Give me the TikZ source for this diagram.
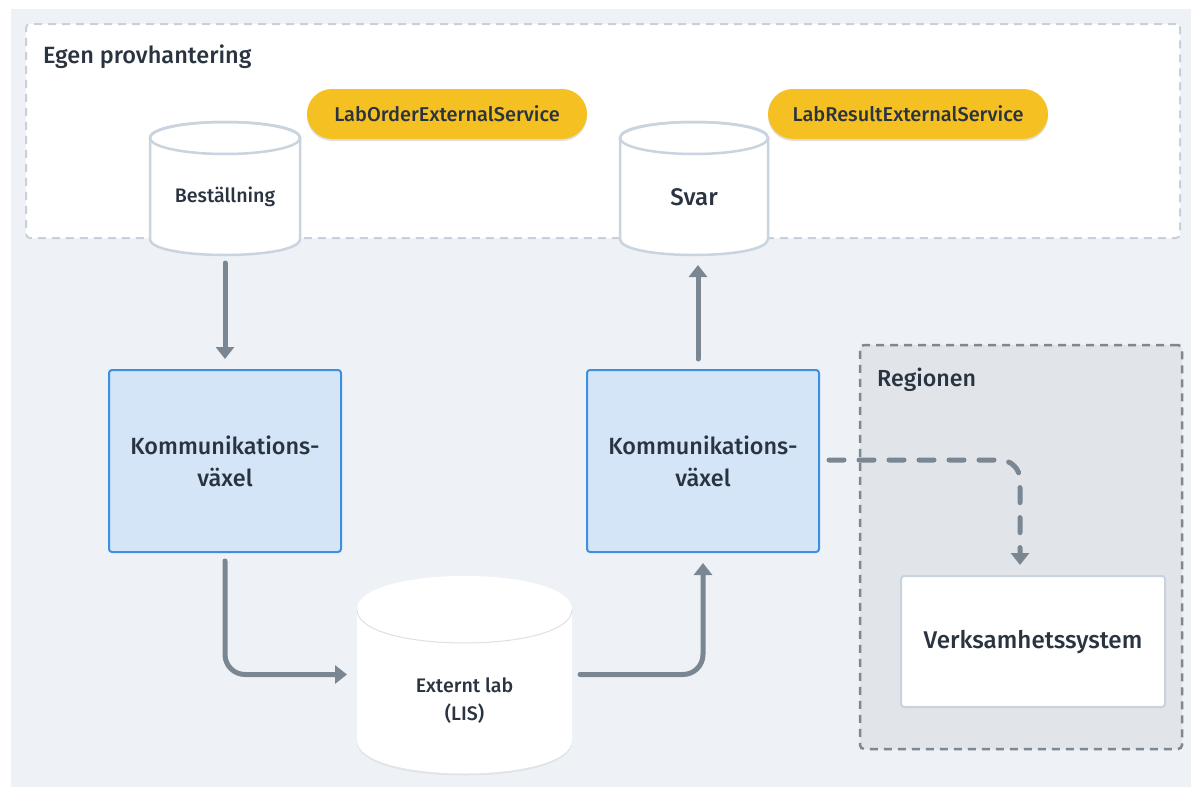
\documentclass[tikz,border=0pt]{standalone}
\usepackage{fontspec}
\setmainfont{Fira Sans Medium}
\usetikzlibrary{arrows.meta,shadows,calc}
\definecolor{bgc}{HTML}{EEF2F6}
\definecolor{egenborder}{HTML}{C8D1DA}
\definecolor{regfill}{HTML}{E1E4E8}
\definecolor{regborder}{HTML}{7D8893}
\definecolor{arrc}{HTML}{7A8692}
\definecolor{kfill}{HTML}{D3E5F6}
\definecolor{kborder}{HTML}{3D8FE0}
\definecolor{cylborder}{HTML}{C9D4DE}
\definecolor{pillc}{HTML}{F5C022}
\definecolor{txtc}{HTML}{2A3440}
\definecolor{verkborder}{HTML}{C9D3DD}
% #1 cx, #2 top ellipse centre y, #3 bottom ellipse centre y, #4 rx, #5 ry, #6 style
\newcommand\drawcyl[6]{%
  \path[#6] (#1-#4,#2) -- (#1-#4,#3)
    .. controls (#1-#4,#3+1.3333*#5) and (#1+#4,#3+1.3333*#5) .. (#1+#4,#3)
    -- (#1+#4,#2)
    .. controls (#1+#4,#2-1.3333*#5) and (#1-#4,#2-1.3333*#5) .. (#1-#4,#2) -- cycle;
}
\newcommand\drawcyltop[6]{%
  \path[#6] (#1-#4,#2)
    .. controls (#1-#4,#2+1.3333*#5) and (#1+#4,#2+1.3333*#5) .. (#1+#4,#2);
}
\tikzset{
  kbox/.style={draw=kborder, fill=kfill, line width=2, rounded corners=3,
    minimum width=232, minimum height=182, align=center,
    font=\fontsize{23.4}{32}\selectfont, text=txtc, inner sep=0},
  pill/.style={fill=pillc, rounded corners=25, minimum width=280, minimum height=50,
    font=\fontsize{20}{20}\selectfont, text=txtc, inner sep=0,
    drop shadow={shadow xshift=0pt, shadow yshift=-2pt, opacity=0.12, fill=black}},
  cylnode/.style={inner sep=0, outer sep=0},
  lbl/.style={text=txtc, inner sep=0},
  arr/.style={draw=arrc, line width=5, line cap=round, rounded corners=20,
    -{Triangle[length=12pt,width=18pt]}},
  darr/.style={arr, dash pattern=on 15pt off 15pt},
}
\begin{document}
\begin{tikzpicture}[x=1pt,y=-1pt]
\useasboundingbox (0,0) rectangle (1191,787);
\fill[white] (0,0) rectangle (1191,787);
\fill[bgc] (11,9) rectangle (1191,787);
% group boxes
\node[draw=egenborder, fill=white, line width=2, dash pattern=on 8pt off 6pt,
  rounded corners=4, minimum width=1154, minimum height=214, inner sep=0]
  (egen) at (603,131) {};
\node[lbl, anchor=west, font=\fontsize{23.5}{24}\selectfont] (egenlbl) at (43,57) {Egen provhantering};
\node[draw=regborder, fill=regfill, line width=2.5, dash pattern=on 8pt off 6pt,
  rounded corners=4, minimum width=322, minimum height=404, inner sep=0]
  (region) at (1021,547) {};
\node[lbl, anchor=west, font=\fontsize{23.2}{24}\selectfont] (reglbl) at (877,380) {Regionen};
% cylinders
\drawcyl{225}{138}{239}{75}{16}{fill=white, draw=cylborder, line width=2.5}
\draw[cylborder, line width=2.5] (225,138) ellipse [x radius=75pt, y radius=16pt];
\node[cylnode, minimum width=150, minimum height=133] (best) at (225,188.5) {};
\node[lbl, font=\fontsize{19.6}{20}\selectfont] (bestlbl) at (225,197) {Beställning};

\drawcyl{694}{138}{239}{74}{16}{fill=white, draw=cylborder, line width=2.5}
\draw[cylborder, line width=2.5] (694,138) ellipse [x radius=74pt, y radius=16pt];
\node[cylnode, minimum width=148, minimum height=133] (svar) at (694,188.5) {};
\node[lbl, font=\fontsize{24}{26}\selectfont] (svarlbl) at (694,197) {Svar};

\begin{scope}
\drawcyl{464.5}{609.5}{740}{107.5}{33.5}{fill=black, opacity=0.06, shift={(0,2)}}
\drawcyl{464.5}{609.5}{740}{107.5}{33.5}{fill=white}
\drawcyltop{464.5}{609.5}{740}{107.5}{33.5}{draw=black!12, line width=1}
\end{scope}
\node[cylnode, minimum width=215, minimum height=197] (ext) at (464.5,674.5) {};
\node[lbl, align=center, font=\fontsize{19.6}{28}\selectfont] (extlbl) at (464.5,701) {Externt lab\\(LIS)};

% pills
\node[pill] (order) at (447,114) {LabOrderExternalService};
\node[pill] (result) at (908,114) {LabResultExternalService};

% boxes
\node[kbox] (k1) at (225,461) {Kommunikations-\\växel};
\node[kbox] (k2) at (703,461) {Kommunikations-\\växel};
\node[draw=verkborder, fill=white, line width=2, rounded corners=3,
  minimum width=264, minimum height=131, inner sep=0, text=txtc,
  font=\fontsize{24.2}{24}\selectfont] (verk) at (1033,641.5) {Verksamhetssystem};

% connectors
\draw[arr] ($(best.south)+(0,8)$) -- ($(k1.north)+(0,-10)$);
\draw[arr] ($(k1.south)+(0,8)$) |- ($(ext.west)+(-10,0)$);
\draw[arr] ($(ext.east)+(8,0)$) -| ($(k2.south)+(0,10)$);
\draw[arr] ($(k2.north)+(-5,-10)$) -- ($(k2.north |- svar.south)+(-5,10)$);
\draw[darr] ($(k2.east)+(9,-1)$) -| ($(verk.north)+(-13,-10)$);
\end{tikzpicture}
\end{document}
